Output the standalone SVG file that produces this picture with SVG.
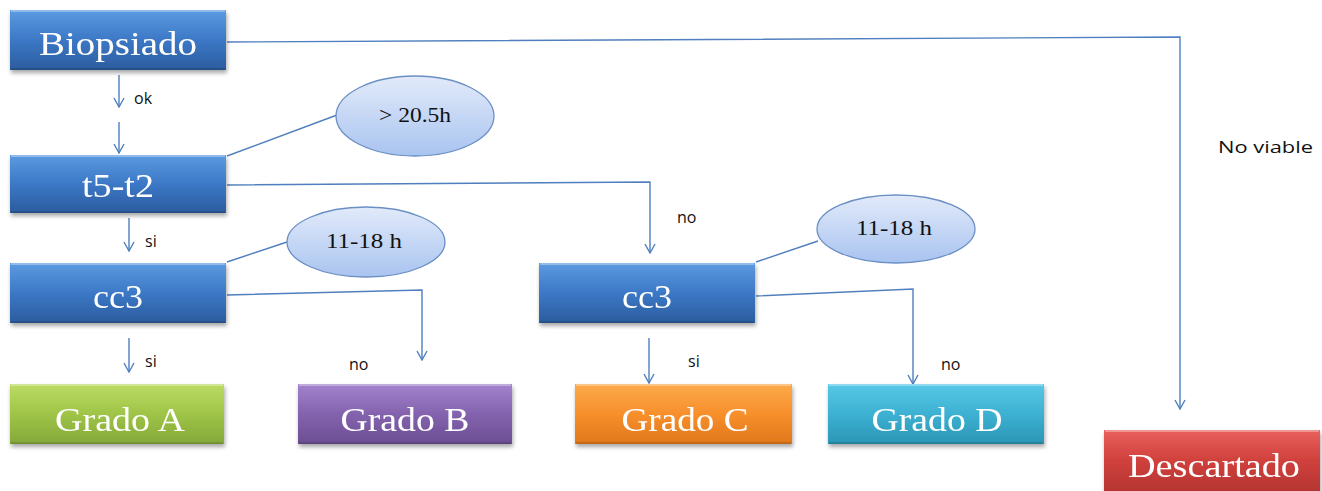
<svg xmlns="http://www.w3.org/2000/svg" width="1322" height="491" viewBox="0 0 1322 491">
  <defs>
    <style>
      .box-text { font-family: "Liberation Serif", "Times New Roman", serif; font-size: 34px; fill: #ffffff; text-anchor: middle; }
      .oval-text { font-family: "Liberation Serif", "Times New Roman", serif; font-size: 21px; fill: #111111; text-anchor: middle; }
      .label { font-family: "Open Sans", "Liberation Sans", Arial, sans-serif; font-size: 16px; fill: #111111; }
      .link { fill: none; stroke: #4f7fbe; stroke-width: 1.4; }
      .oval { fill: url(#gOval); stroke: #6a8fc4; stroke-width: 1.3; }
      .edge-hi { fill: none; stroke: #ffffff; stroke-opacity: 0.45; stroke-width: 1.5; }
      .edge-lo { fill: none; stroke: #000000; stroke-opacity: 0.18; stroke-width: 1.5; }
    </style>
    <linearGradient id="gBlue" x1="0" y1="0" x2="0" y2="1">
      <stop offset="0" stop-color="#5c9ae0"/>
      <stop offset="0.5" stop-color="#3c78c6"/>
      <stop offset="1" stop-color="#2b5c9e"/>
    </linearGradient>
    <linearGradient id="gGreen" x1="0" y1="0" x2="0" y2="1">
      <stop offset="0" stop-color="#bcdc64"/>
      <stop offset="0.5" stop-color="#9fc447"/>
      <stop offset="1" stop-color="#84a83a"/>
    </linearGradient>
    <linearGradient id="gPurple" x1="0" y1="0" x2="0" y2="1">
      <stop offset="0" stop-color="#a283cc"/>
      <stop offset="0.5" stop-color="#8463ae"/>
      <stop offset="1" stop-color="#6b4e92"/>
    </linearGradient>
    <linearGradient id="gOrange" x1="0" y1="0" x2="0" y2="1">
      <stop offset="0" stop-color="#fcaa4a"/>
      <stop offset="0.5" stop-color="#f78f2c"/>
      <stop offset="1" stop-color="#e0781c"/>
    </linearGradient>
    <linearGradient id="gCyan" x1="0" y1="0" x2="0" y2="1">
      <stop offset="0" stop-color="#57c8e6"/>
      <stop offset="0.5" stop-color="#3db1d2"/>
      <stop offset="1" stop-color="#2b95b4"/>
    </linearGradient>
    <linearGradient id="gRed" x1="0" y1="0" x2="0" y2="1">
      <stop offset="0" stop-color="#e8605c"/>
      <stop offset="0.5" stop-color="#d0403c"/>
      <stop offset="1" stop-color="#b43532"/>
    </linearGradient>
    <linearGradient id="gOval" x1="0" y1="0" x2="0" y2="1">
      <stop offset="0" stop-color="#e2eafa"/>
      <stop offset="1" stop-color="#a9c4f0"/>
    </linearGradient>
    <filter id="shadow" x="-10%" y="-20%" width="120%" height="150%">
      <feGaussianBlur in="SourceAlpha" stdDeviation="2"/>
      <feOffset dx="1" dy="3" result="b"/>
      <feComponentTransfer><feFuncA type="linear" slope="0.35"/></feComponentTransfer>
      <feMerge><feMergeNode/><feMergeNode in="SourceGraphic"/></feMerge>
    </filter>
    <!-- open V arrowhead, drawn along +x so orient="auto" follows the line -->
    <marker id="arrow" viewBox="0 0 12 12" refX="11" refY="6" markerWidth="12" markerHeight="12" markerUnits="userSpaceOnUse" orient="auto">
      <path d="M2 1 L11 6 L2 11" fill="none" stroke="#4f7fbe" stroke-width="1.4"/>
    </marker>
  </defs>

  <rect width="1322" height="491" fill="#ffffff"/>

  <!-- connectors -->
  <g id="connectors">
    <path class="link" d="M227 42 L1180 37 L1180 409" marker-end="url(#arrow)"/>
    <path class="link" d="M119 75 L119 107" marker-end="url(#arrow)"/>
    <path class="link" d="M119 122 L119 153" marker-end="url(#arrow)"/>
    <path class="link" d="M227 156 L337 115"/>
    <path class="link" d="M227 185 L650 182 L650 253" marker-end="url(#arrow)"/>
    <path class="link" d="M129 218 L129 251" marker-end="url(#arrow)"/>
    <path class="link" d="M227 262 L287 242"/>
    <path class="link" d="M227 295 L422 290 L422 360" marker-end="url(#arrow)"/>
    <path class="link" d="M129 338 L129 372" marker-end="url(#arrow)"/>
    <path class="link" d="M756 262 L818 241"/>
    <path class="link" d="M756 296 L913 289 L913 384" marker-end="url(#arrow)"/>
    <path class="link" d="M649 338 L649 383" marker-end="url(#arrow)"/>

    <text class="label" x="134" y="104">ok</text>
    <text class="label" x="145" y="247">si</text>
    <text class="label" x="145" y="367">si</text>
    <text class="label" x="349" y="370">no</text>
    <text class="label" x="677" y="223">no</text>
    <text class="label" x="688" y="367">si</text>
    <text class="label" x="941" y="370">no</text>
    <text class="label" x="1218" y="153" textLength="95" lengthAdjust="spacingAndGlyphs">No viable</text>
  </g>

  <!-- decision nodes -->
  <g id="node-biopsiado" filter="url(#shadow)">
    <rect x="10" y="10" width="216" height="60" fill="url(#gBlue)"/>
    <path class="edge-hi" d="M11 11 H225"/>
    <path class="edge-lo" d="M11 69 H225"/>
    <text class="box-text" x="118" y="55" textLength="158" lengthAdjust="spacingAndGlyphs">Biopsiado</text>
  </g>

  <g id="node-t5t2" filter="url(#shadow)">
    <rect x="10" y="155" width="216" height="58" fill="url(#gBlue)"/>
    <path class="edge-hi" d="M11 156 H225"/>
    <path class="edge-lo" d="M11 212 H225"/>
    <text class="box-text" x="118" y="197" textLength="72" lengthAdjust="spacingAndGlyphs">t5-t2</text>
  </g>

  <g id="node-cc3-left" filter="url(#shadow)">
    <rect x="10" y="263" width="216" height="60" fill="url(#gBlue)"/>
    <path class="edge-hi" d="M11 264 H225"/>
    <path class="edge-lo" d="M11 322 H225"/>
    <text class="box-text" x="118" y="308" textLength="50" lengthAdjust="spacingAndGlyphs">cc3</text>
  </g>

  <g id="node-cc3-right" filter="url(#shadow)">
    <rect x="539" y="263" width="216" height="60" fill="url(#gBlue)"/>
    <path class="edge-hi" d="M540 264 H754"/>
    <path class="edge-lo" d="M540 322 H754"/>
    <text class="box-text" x="647" y="308" textLength="50" lengthAdjust="spacingAndGlyphs">cc3</text>
  </g>

  <!-- time windows -->
  <g id="node-gt205">
    <ellipse class="oval" cx="415" cy="116" rx="79" ry="40"/>
    <text class="oval-text" x="415" y="122" textLength="72" lengthAdjust="spacingAndGlyphs">&gt; 20.5h</text>
  </g>

  <g id="node-window-left">
    <ellipse class="oval" cx="366" cy="242" rx="79" ry="35"/>
    <text class="oval-text" x="364" y="248" textLength="76" lengthAdjust="spacingAndGlyphs">11-18 h</text>
  </g>

  <g id="node-window-right">
    <ellipse class="oval" cx="896" cy="229" rx="79" ry="34"/>
    <text class="oval-text" x="894" y="235" textLength="76" lengthAdjust="spacingAndGlyphs">11-18 h</text>
  </g>

  <!-- outcomes -->
  <g id="node-grado-a" filter="url(#shadow)">
    <rect x="10" y="384" width="214" height="60" fill="url(#gGreen)"/>
    <path class="edge-hi" d="M11 385 H223"/>
    <path class="edge-lo" d="M11 443 H223"/>
    <text class="box-text" x="120" y="431" textLength="130" lengthAdjust="spacingAndGlyphs">Grado A</text>
  </g>

  <g id="node-grado-b" filter="url(#shadow)">
    <rect x="298" y="384" width="214" height="60" fill="url(#gPurple)"/>
    <path class="edge-hi" d="M299 385 H511"/>
    <path class="edge-lo" d="M299 443 H511"/>
    <text class="box-text" x="405" y="431" textLength="129" lengthAdjust="spacingAndGlyphs">Grado B</text>
  </g>

  <g id="node-grado-c" filter="url(#shadow)">
    <rect x="575" y="384" width="217" height="60" fill="url(#gOrange)"/>
    <path class="edge-hi" d="M576 385 H791"/>
    <path class="edge-lo" d="M576 443 H791"/>
    <text class="box-text" x="685" y="431" textLength="127" lengthAdjust="spacingAndGlyphs">Grado C</text>
  </g>

  <g id="node-grado-d" filter="url(#shadow)">
    <rect x="828" y="384" width="216" height="60" fill="url(#gCyan)"/>
    <path class="edge-hi" d="M829 385 H1043"/>
    <path class="edge-lo" d="M829 443 H1043"/>
    <text class="box-text" x="937" y="431" textLength="131" lengthAdjust="spacingAndGlyphs">Grado D</text>
  </g>

  <g id="node-descartado" filter="url(#shadow)">
    <rect x="1104" y="430" width="216" height="62" fill="url(#gRed)"/>
    <path class="edge-hi" d="M1105 431 H1319"/>
    <text class="box-text" x="1214" y="477" textLength="172" lengthAdjust="spacingAndGlyphs">Descartado</text>
  </g>
</svg>
